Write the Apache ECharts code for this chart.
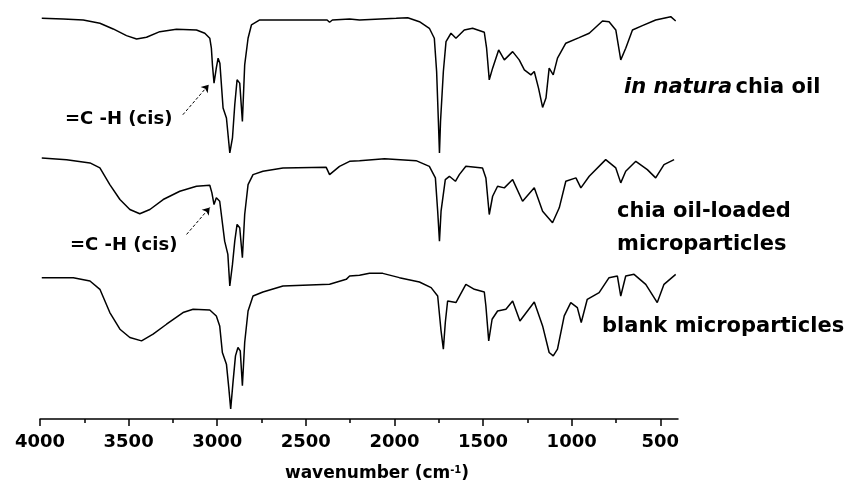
<!DOCTYPE html>
<html>
<head>
<meta charset="utf-8">
<script src="https://cdn.jsdelivr.net/npm/echarts@6/dist/echarts.min.js"></script>
<style>
  html, body { margin: 0; padding: 0; background: #fff; }
  #chart { width: 848px; height: 487px; }
</style>
</head>
<body>
<div id="chart"></div>
<script>
// wavenumber (cm-1) and offset transmittance
const oilWn = [3990,3869,3756,3662,3587,3512,3455,3399,3324,3230,3117,3070,3042,3033,3027,3018,3005,2995,2985,2967,2948,2929,2914,2901,2888,2873,2858,2845,2826,2807,2760,2629,2380,2366,2350,2253,2197,1990,1925,1859,1803,1775,1762,1752,1746,1740,1724,1709,1681,1653,1606,1559,1493,1480,1465,1446,1412,1380,1333,1296,1267,1230,1211,1187,1164,1145,1127,1104,1080,1033,958,901,826,789,751,723,695,657,601,526,441,413];
const oilT = [401.7,401,400,396.7,391,384.3,381,382.7,388.3,390.7,390,386.7,381.7,371.7,355,336.7,352,361.7,356.7,311.7,301.7,266.7,281.7,315,340,336.7,298.3,355,381.7,395,400,400,400,397.7,400,401,400,401.7,402.3,398.3,391.7,381.7,348.3,298.3,266.7,298.3,348.3,378.3,386.7,381.7,390,391.7,387.7,371.7,340,351.7,370,360,368.3,360,350,345,348.3,331.7,312.3,321.7,351.7,345,361.7,376.7,382.3,386.7,399,398.3,390,360,371.7,390,394.3,400,403.3,399];

const loadedWn = [3990,3850,3718,3662,3606,3549,3493,3437,3380,3305,3211,3117,3042,3030,3018,3005,2986,2958,2940,2929,2914,2901,2888,2873,2858,2845,2826,2798,2742,2629,2385,2366,2310,2253,2197,2056,1878,1803,1769,1756,1746,1737,1713,1690,1656,1634,1597,1503,1484,1465,1446,1418,1380,1333,1277,1211,1164,1108,1070,1033,976,948,901,808,751,723,695,638,573,526,479,422];
const loadedT = [261.7,260,256.7,251.7,235,220,210,205.7,210,220,228.3,233.3,234.3,226.7,215,221.7,218.3,178.3,165,133.3,155,178.3,195,191.7,161.7,205,235,245,248.3,251.7,252.3,245,253.3,258.3,259,261,259,253.3,241.7,208.3,178.3,208.3,240,243.3,238.3,245,253.3,251.7,241.7,205,223.3,233.3,231.7,240,218.3,231.7,208.3,196.7,211.7,238.3,241.7,231.7,243.3,260,251.7,236.7,248.3,258.3,250,241.7,255,260];

const blankWn = [3990,3812,3718,3662,3606,3549,3493,3427,3362,3286,3193,3136,3042,3005,2986,2971,2948,2935,2924,2911,2897,2883,2870,2858,2845,2826,2798,2742,2629,2366,2272,2253,2197,2141,2066,1972,1859,1793,1756,1737,1724,1713,1700,1653,1597,1549,1493,1484,1468,1449,1418,1371,1333,1292,1211,1164,1127,1104,1080,1042,1005,968,946,912,845,789,742,723,695,648,582,517,479,413];
const blankT = [141.7,141.7,138.3,130,106.7,90,81.7,78.3,85,95,106.7,110,109.3,103.3,93.3,66.7,55,31.7,10,36.7,63.3,71.7,68.3,33.3,76.7,108.3,123.3,127.3,133.3,135,140,143.3,144,146,146,141.7,137.3,131.7,123.3,88.3,70,96.7,118.3,116.7,135,130,127.3,113.3,78.3,100,108.3,110,118.3,98.3,117.3,93.3,66.7,63.3,70,103.3,116.7,111.7,96.7,120,126.7,141.7,143.3,123.3,143.3,145,135,116.7,135,145];

const majorTicks = [4000, 3500, 3000, 2500, 2000, 1500, 1000, 500];
const minorTicks = [3750, 3250, 2750, 2250, 1750, 1250, 750];

// arrows for the =C-H (cis) band: [from, to] in [wavenumber, T]
const cisArrowOil = [[3194, 305], [3048, 335]];
const cisArrowLoaded = [[3173, 185], [3042, 212]];

const FONT = 'DejaVu Sans';

function pairs(xs, ys) {
  return xs.map((x, i) => [x, ys[i]]);
}

function arrow(a) {
  return {
    silent: true,
    symbol: ['none', 'arrow'],
    symbolSize: 7,
    label: { show: false },
    lineStyle: { color: '#000', width: 1, type: [3, 2] },
    data: [[{ coord: a[0] }, { coord: a[1] }]]
  };
}

const chart = echarts.init(document.getElementById('chart'));

const lineStyle = { color: '#000', width: 1.5 };

const option = {
  animation: false,
  backgroundColor: '#fff',
  grid: { left: 40, right: 170, top: 10, bottom: 67 },
  xAxis: [{
    type: 'value',
    min: 400,
    max: 4000,
    inverse: true,
    position: 'bottom',
    axisLine: { lineStyle: { color: '#000', width: 1.5 } },
    axisTick: { inside: false, length: 7, customValues: majorTicks, lineStyle: { color: '#000', width: 1.5 } },
    axisLabel: {
      customValues: majorTicks,
      formatter: v => String(v),
      color: '#000', fontFamily: FONT, fontWeight: 'bold', fontSize: 18, margin: 14
    },
    splitLine: { show: false },
    name: '{a|wavenumber (cm}{s|-1}{a|)}',
    nameLocation: 'middle',
    nameGap: 46,
    nameTextStyle: {
      padding: [0, 0, 0, 36],
      rich: {
        a: { fontFamily: FONT, fontWeight: 'bold', fontSize: 17, color: '#000' },
        s: { fontFamily: FONT, fontWeight: 'bold', fontSize: 10, color: '#000', verticalAlign: 'top' }
      }
    }
  }, {
    type: 'value',
    min: 400,
    max: 4000,
    inverse: true,
    position: 'bottom',
    axisLine: { show: false },
    axisTick: { inside: false, length: 4, customValues: minorTicks, lineStyle: { color: '#000', width: 1.5 } },
    axisLabel: { show: false },
    splitLine: { show: false }
  }],
  yAxis: { type: 'value', min: 0, max: 410, show: false },
  series: [{
    name: 'in natura chia oil',
    type: 'line',
    showSymbol: false,
    lineStyle: lineStyle,
    data: pairs(oilWn, oilT),
    markLine: arrow(cisArrowOil)
  }, {
    name: 'chia oil-loaded microparticles',
    type: 'line',
    showSymbol: false,
    lineStyle: lineStyle,
    data: pairs(loadedWn, loadedT),
    markLine: arrow(cisArrowLoaded)
  }, {
    name: 'blank microparticles',
    type: 'line',
    showSymbol: false,
    lineStyle: lineStyle,
    data: pairs(blankWn, blankT)
  }],
  graphic: [
    {
      type: 'text', x: 624, y: 88,
      style: {
        text: '{i|in natura} {b|chia oil}',
        verticalAlign: 'middle',
        rich: {
          i: { fontFamily: FONT, fontWeight: 'bold', fontStyle: 'italic', fontSize: 21, fill: '#000' },
          b: { fontFamily: FONT, fontWeight: 'bold', fontSize: 21, fill: '#000' }
        }
      }
    },
    { type: 'text', x: 617, y: 212, style: { text: 'chia oil-loaded', font: 'bold 21px "DejaVu Sans"', fill: '#000', verticalAlign: 'middle' } },
    { type: 'text', x: 617, y: 245, style: { text: 'microparticles', font: 'bold 21px "DejaVu Sans"', fill: '#000', verticalAlign: 'middle' } },
    { type: 'text', x: 602, y: 327, style: { text: 'blank microparticles', font: 'bold 21px "DejaVu Sans"', fill: '#000', verticalAlign: 'middle' } },
    { type: 'text', x: 65, y: 119, style: { text: '=C -H (cis)', font: 'bold 18px "DejaVu Sans"', fill: '#000', verticalAlign: 'middle' } },
    { type: 'text', x: 70, y: 245, style: { text: '=C -H (cis)', font: 'bold 18px "DejaVu Sans"', fill: '#000', verticalAlign: 'middle' } }
  ]
};

chart.setOption(option);
</script>
</body>
</html>
